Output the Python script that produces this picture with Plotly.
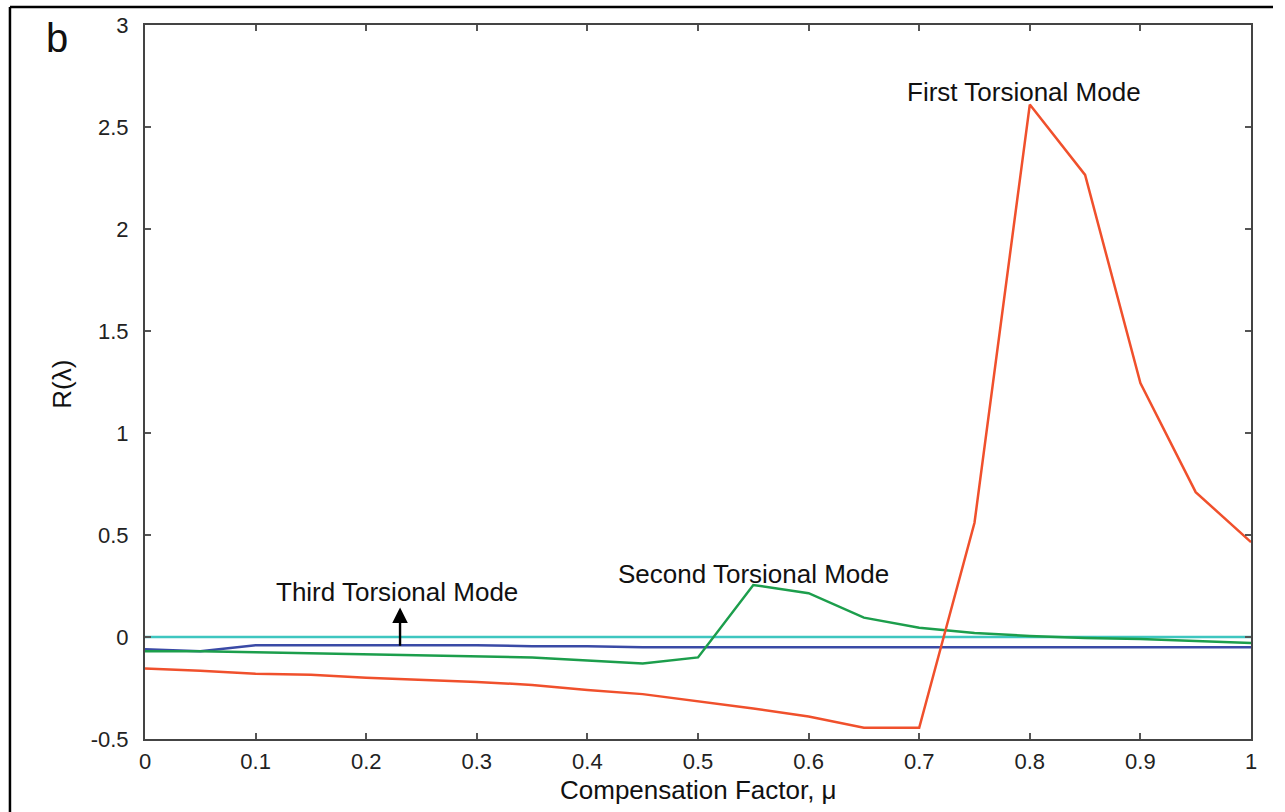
import plotly.graph_objects as go

# Compensation factor (x axis)
mu = [0.0, 0.05, 0.1, 0.15, 0.2, 0.25, 0.3, 0.35, 0.4, 0.45, 0.5,
      0.55, 0.6, 0.65, 0.7, 0.75, 0.8, 0.85, 0.9, 0.95, 1.0]

# R(lambda) for each torsional mode
first_mode = [-0.155, -0.165, -0.18, -0.185, -0.2, -0.21, -0.22, -0.235, -0.26, -0.28, -0.315,
              -0.35, -0.39, -0.445, -0.445, 0.56, 2.61, 2.265, 1.245, 0.71, 0.465]
second_mode = [-0.07, -0.07, -0.075, -0.08, -0.085, -0.09, -0.095, -0.1, -0.115, -0.13, -0.1,
               0.255, 0.215, 0.095, 0.045, 0.02, 0.005, -0.005, -0.01, -0.02, -0.03]
third_mode = [-0.06, -0.07, -0.04, -0.04, -0.04, -0.04, -0.04, -0.045, -0.045, -0.05, -0.05,
              -0.05, -0.05, -0.05, -0.05, -0.05, -0.05, -0.05, -0.05, -0.05, -0.05]
zero_ref = [0.0] * len(mu)

x_ticks = [0, 0.1, 0.2, 0.3, 0.4, 0.5, 0.6, 0.7, 0.8, 0.9, 1]
x_tick_text = ["0", "0.1", "0.2", "0.3", "0.4", "0.5", "0.6", "0.7", "0.8", "0.9", "1"]
y_ticks = [-0.5, 0, 0.5, 1, 1.5, 2, 2.5, 3]
y_tick_text = ["-0.5", "0", "0.5", "1", "1.5", "2", "2.5", "3"]

FONT = "Liberation Sans, Arial, sans-serif"
LABEL_SIZE = 26

fig = go.Figure()
fig.add_trace(go.Scatter(x=mu, y=zero_ref, mode="lines",
                         line=dict(color="#3EC6C0", width=2.5), name="reference"))
fig.add_trace(go.Scatter(x=mu, y=third_mode, mode="lines",
                         line=dict(color="#3A4AA6", width=2.5), name="Third Torsional Mode"))
fig.add_trace(go.Scatter(x=mu, y=second_mode, mode="lines",
                         line=dict(color="#1C9E4C", width=2.5), name="Second Torsional Mode"))
fig.add_trace(go.Scatter(x=mu, y=first_mode, mode="lines",
                         line=dict(color="#F0502C", width=2.5), name="First Torsional Mode"))

axis_common = dict(
    showline=True, linecolor="#444444", linewidth=2, mirror="ticks",
    ticks="inside", ticklen=6, tickwidth=1.5, tickcolor="#555555",
    showgrid=False, zeroline=False,
    tickfont=dict(family=FONT, size=22, color="#222222"),
)

fig.update_xaxes(range=[0, 1], tickvals=x_ticks, ticktext=x_tick_text,
                 ticklabelstandoff=2, **axis_common)
fig.update_yaxes(range=[-0.5, 3], tickvals=y_ticks, ticktext=y_tick_text,
                 ticklabelstandoff=10, **axis_common)

annotations = [
    dict(x=0.795, y=2.67, xref="x", yref="y", text="First Torsional Mode",
         showarrow=False, font=dict(family=FONT, size=LABEL_SIZE, color="#111111")),
    dict(x=0.55, y=0.31, xref="x", yref="y", text="Second Torsional Mode",
         showarrow=False, font=dict(family=FONT, size=LABEL_SIZE, color="#111111")),
    dict(x=0.228, y=0.22, xref="x", yref="y", text="Third Torsional Mode",
         showarrow=False, font=dict(family=FONT, size=LABEL_SIZE, color="#111111")),
    # arrow pointing from the third-mode curve up to its label
    dict(x=0.2306, y=0.145, xref="x", yref="y", ax=0.2306, ay=-0.05,
         axref="x", ayref="y", text="", showarrow=True,
         arrowhead=2, arrowsize=1.3, arrowwidth=2.4, arrowcolor="#000000"),
    # axis titles
    dict(x=0.5, y=-0.072, xref="paper", yref="paper", text="Compensation Factor, μ",
         showarrow=False, xanchor="center", yanchor="middle",
         font=dict(family=FONT, size=LABEL_SIZE, color="#111111")),
    dict(x=-0.0745, y=0.497, xref="paper", yref="paper", text="R(λ)", textangle=-90,
         showarrow=False, xanchor="center", yanchor="middle",
         font=dict(family=FONT, size=LABEL_SIZE, color="#111111")),
    # panel letter
    dict(x=-0.0795, y=0.982, xref="paper", yref="paper", text="b",
         showarrow=False, xanchor="center", yanchor="middle",
         font=dict(family=FONT, size=40, color="#111111")),
]

shapes = [
    # outer frame (left and top edges)
    dict(type="line", xref="paper", yref="paper", x0=-0.1221, x1=-0.1221, y0=1.0252, y1=-0.11,
         line=dict(color="#000000", width=2.5)),
    dict(type="line", xref="paper", yref="paper", x0=-0.1221, x1=1.0199, y0=1.0252, y1=1.0252,
         line=dict(color="#000000", width=2.5)),
]

fig.update_layout(
    width=1285, height=812,
    margin=dict(l=145, r=34, t=25, b=73),
    paper_bgcolor="white", plot_bgcolor="white",
    showlegend=False,
    annotations=annotations,
    shapes=shapes,
)

fig.write_html("out.html")
